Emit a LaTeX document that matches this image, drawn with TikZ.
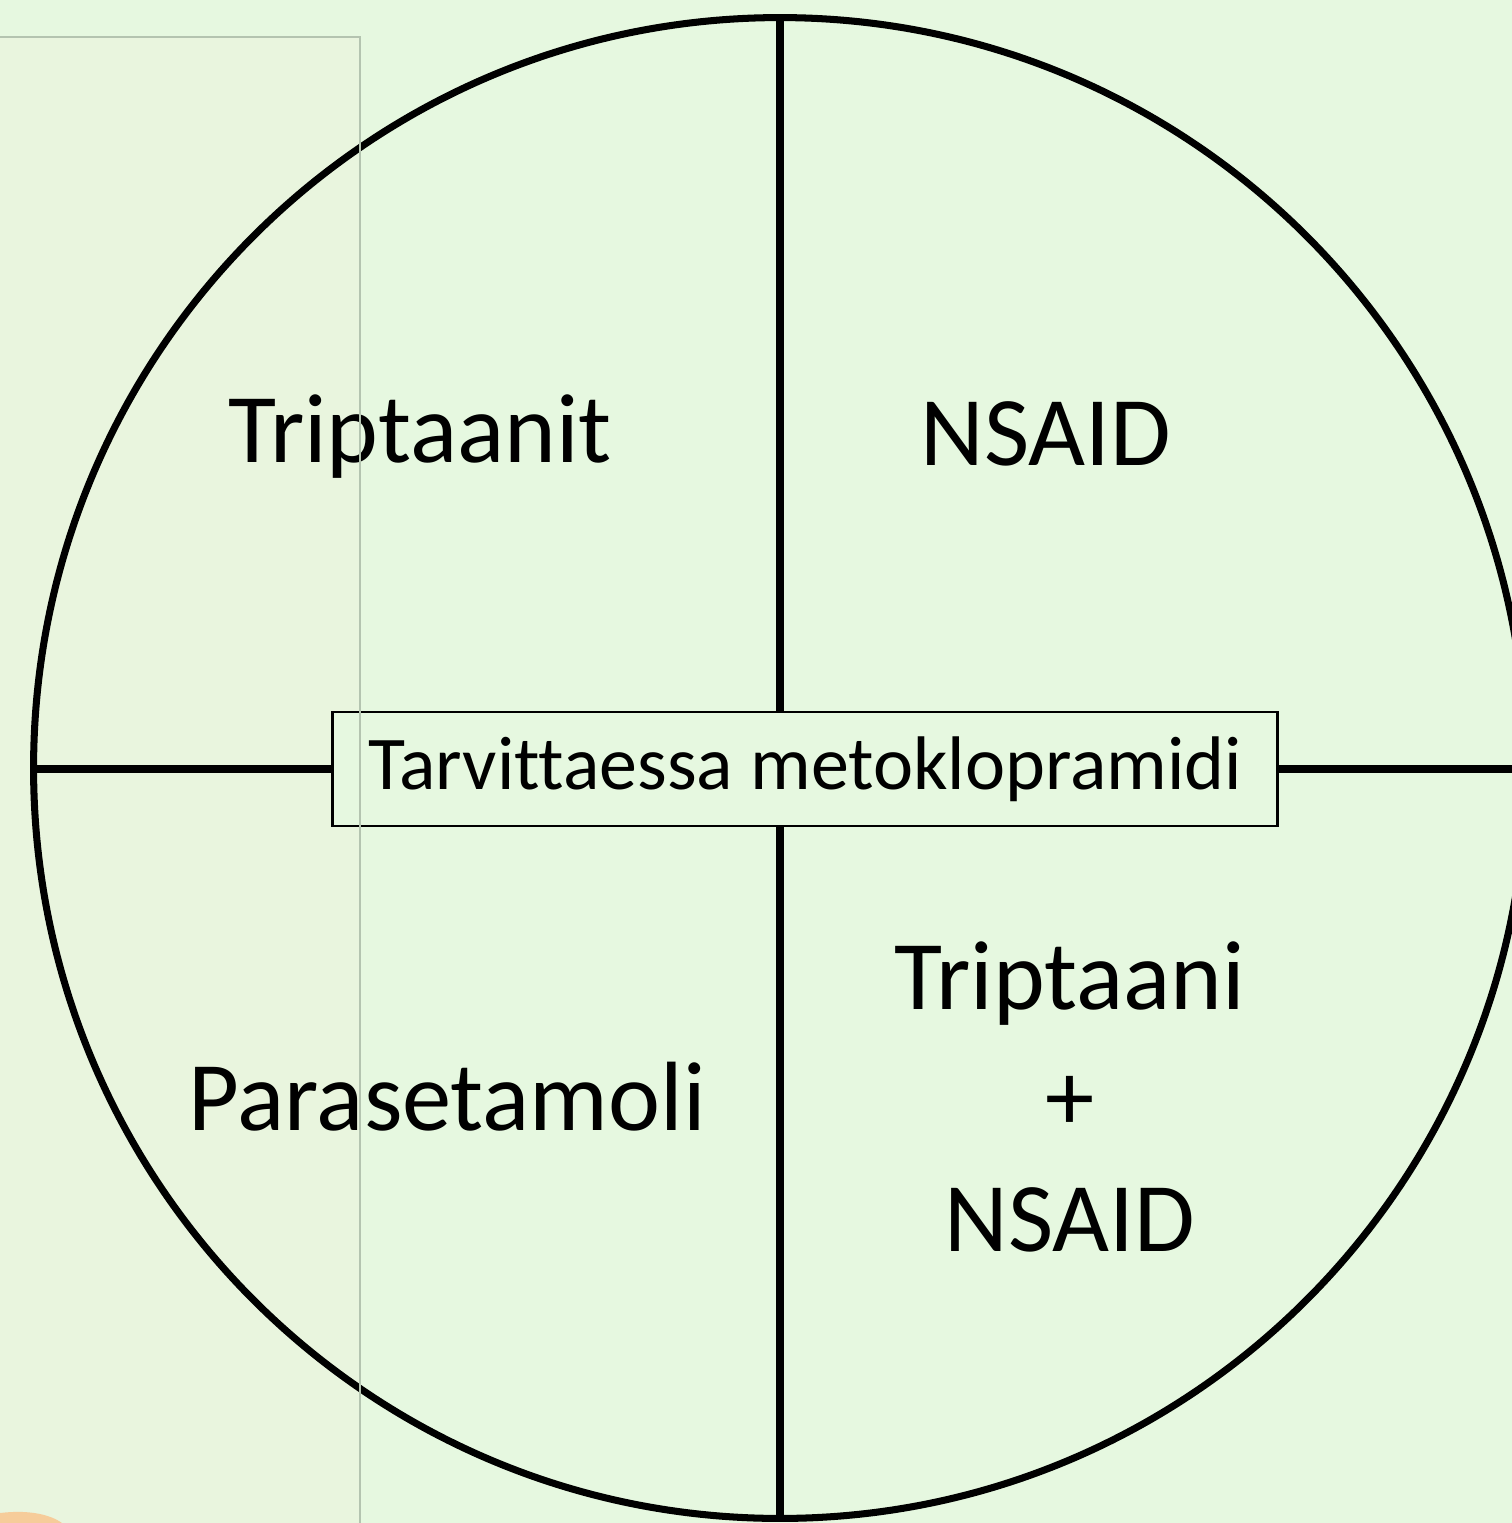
\documentclass[tikz,border=0pt]{standalone}
\usepackage{fontspec}
\setmainfont{Carlito}[Ligatures=NoCommon]

\begin{document}
\begin{tikzpicture}[x=0.01cm, y=-0.01cm]

    % Colors for the background and lines
    \definecolor{bggreen}{RGB}{230,248,224}
    \definecolor{panelgreen}{RGB}{233,245,222}
    \definecolor{panelline}{RGB}{180,196,176}
    \definecolor{peach}{RGB}{246,204,154}

    % Page frame
    \useasboundingbox (0,0) rectangle (1512,1523);
    \clip (0,0) rectangle (1512,1523);
    \fill[bggreen] (0,0) rectangle (1512,1523);

    % Faint panel on the left (fill behind)
    \fill[panelgreen] (-5,37) rectangle (360,1540);

    % Peach shape in the corner
    \fill[peach] (0,1523) -- (0,1513) .. controls (25,1510) and (48,1513) .. (62,1523) -- cycle;

    % Big circle and its ends
    \coordinate (c) at (780,768);
    \draw[line width=2pt] (c) ellipse [x radius=7.46cm, y radius=7.5cm];
    \coordinate (top) at (780,18);
    \coordinate (bottom) at (780,1520);
    \coordinate (left) at (34,769);
    \coordinate (right) at (1530,769);

    % Middle box
    \node[draw, line width=0.8pt, fill=bggreen, minimum width=9.44cm, minimum height=1.14cm,
          font=\fontsize{21.6}{26}\selectfont] (mid) at (805,769) {Tarvittaessa metoklopramidi};

    % Cross lines
    \draw[line width=2.3pt] (top) -- (top |- mid.north);
    \draw[line width=2.3pt] (bottom |- mid.south) -- (bottom);
    \draw[line width=2.3pt] (left) -- (mid.west);
    \draw[line width=2.3pt] (mid.east) -- (right);

    % Quarter labels
    \node[anchor=base, font=\fontsize{28}{34.4}\selectfont] (trip) at (420,462) {Triptaanit};
    \node[anchor=base, font=\fontsize{28}{34.4}\selectfont] (nsaid) at (1046,465) {NSAID};
    \node[anchor=base, font=\fontsize{28}{34.4}\selectfont] (para) at (447,1130) {Parasetamoli};
    \node[align=center, font=\fontsize{28}{34.4}\selectfont] (combo) at (1070,1097)
        {Triptaani\\+\\NSAID};

    % Panel border on top
    \draw[panelline, line width=0.5pt] (-5,37) rectangle (360,1540);

\end{tikzpicture}
\end{document}
